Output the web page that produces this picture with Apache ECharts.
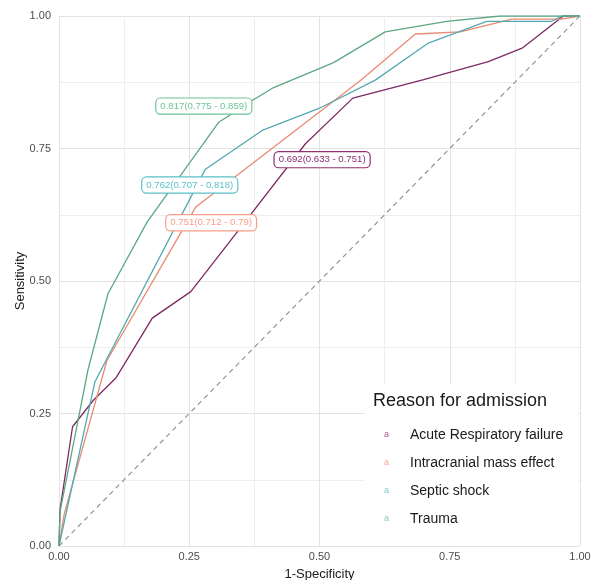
<!DOCTYPE html>
<html><head><meta charset="utf-8">
<script src="https://cdn.jsdelivr.net/npm/echarts@6/dist/echarts.min.js"></script>
<style>html,body{margin:0;padding:0;background:#fff;overflow:hidden}#c{width:592px;height:580px}</style>
</head><body><div id="c"></div>
<script>
const seriesNames = ['Acute Respiratory failure','Intracranial mass effect','Septic shock','Trauma'];
const lineColors = ['#7E2A64','#E98A72','#55A9B0','#5BA883'];
const labelColors = ['#8E2F72','#F79E88','#5BC0C8','#6CC39A'];
const keyColors = ['#A65C8E','#F7AB9A','#80C8CE','#8ACBA8'];
const acuteFpr = [0,0.002,0.026,0.066,0.11,0.179,0.253,0.34,0.473,0.564,0.70,0.824,0.89,0.968,1];
const acuteTpr = [0,0.069,0.225,0.275,0.318,0.43,0.48,0.59,0.759,0.845,0.88,0.914,0.94,1,1];
const cranialFpr = [0,0.01,0.092,0.262,0.578,0.684,0.770,0.869,0.965,1];
const cranialTpr = [0,0.06,0.35,0.639,0.878,0.966,0.970,0.994,0.994,1];
const septicFpr = [0,0.069,0.281,0.39,0.50,0.607,0.709,0.821,0.946,0.965,1];
const septicTpr = [0,0.31,0.711,0.784,0.826,0.879,0.949,0.990,0.990,1,1];
const traumaFpr = [0,0.002,0.056,0.094,0.169,0.306,0.37,0.412,0.527,0.626,0.744,0.847,1];
const traumaTpr = [0,0.065,0.334,0.476,0.611,0.799,0.84,0.865,0.912,0.97,0.99,1,1];
const aucLabels = ['0.692(0.633 - 0.751)','0.751(0.712 - 0.79)','0.762(0.707 - 0.818)','0.817(0.775 - 0.859)'];
const labelX = [0.505,0.292,0.251,0.278];
const labelY = [0.729,0.610,0.681,0.830];
const tickVals = [0,0.25,0.5,0.75,1];
const xAxisTitle = '1-Specificity';
const yAxisTitle = 'Sensitivity';
const legendTitle = 'Reason for admission';

const fprs = [acuteFpr,cranialFpr,septicFpr,traumaFpr];
const tprs = [acuteTpr,cranialTpr,septicTpr,traumaTpr];
const fmt = v => v.toFixed(2);
const FF = 'Liberation Sans, Arial, sans-serif';

const series = [{
  type:'line', name:'ref', data:[[0,0],[1,1]], symbol:'none', silent:true,
  lineStyle:{color:'#8c8c8c', width:1.1, type:[5,4]}, z:1
}];
seriesNames.forEach((n,i)=>{
  series.push({
    type:'line', name:n, data:fprs[i].map((x,j)=>[x,tprs[i][j]]),
    symbol:'none', smooth:false, lineStyle:{color:lineColors[i], width:1.3},
    itemStyle:{color:lineColors[i]},
    markPoint:{
      symbol:'rect', symbolSize:1, itemStyle:{color:'rgba(0,0,0,0)'},
      data:[{coord:[labelX[i],labelY[i]], value:aucLabels[i]}],
      label:{show:true, position:'inside', formatter:aucLabels[i], color:labelColors[i],
        fontSize:9.6, fontFamily:FF,
        backgroundColor:'#fff', borderColor:labelColors[i], borderWidth:1.2, borderRadius:4,
        padding:[3,4,2,4]}
    }
  });
});

const rich = {t:{fontSize:14, color:'#1a1a1a', fontFamily:FF}};
keyColors.forEach((c,i)=>{ rich['k'+i] = {color:c, fontSize:9, width:26, fontFamily:FF}; });

const chart = echarts.init(document.getElementById('c'));
chart.setOption({
  animation:false,
  backgroundColor:'#fff',
  grid:{left:59, right:12, top:16, bottom:34, containLabel:false, outerBoundsMode:'none'},
  xAxis:{type:'value', min:0, max:1, interval:0.25,
    name:xAxisTitle, nameLocation:'middle', nameGap:22,
    nameTextStyle:{fontSize:13, color:'#1a1a1a', fontFamily:FF},
    axisLine:{show:false}, axisTick:{show:false},
    axisLabel:{formatter:fmt, fontSize:11, color:'#4d4d4d', margin:5, fontFamily:FF},
    splitLine:{lineStyle:{color:'#e3e3e3', width:1}},
    minorTick:{show:false, splitNumber:2},
    minorSplitLine:{show:true, lineStyle:{color:'#eeeeee', width:1}}
  },
  yAxis:{type:'value', min:0, max:1, interval:0.25,
    axisLine:{show:false}, axisTick:{show:false},
    axisLabel:{formatter:fmt, fontSize:11, color:'#4d4d4d', margin:8, fontFamily:FF},
    splitLine:{lineStyle:{color:'#e3e3e3', width:1}},
    minorTick:{show:false, splitNumber:2},
    minorSplitLine:{show:true, lineStyle:{color:'#eeeeee', width:1}}
  },
  graphic:[
    {type:'rect', left:365, top:385, shape:{width:213, height:160}, style:{fill:'#fff'}, z:3, silent:true},
    {type:'text', x:20, y:281, rotation:Math.PI/2, silent:true,
      style:{text:yAxisTitle, fontSize:13, fill:'#1a1a1a', fontFamily:FF, align:'center', verticalAlign:'middle'}}
  ],
  title:{text:legendTitle, left:373, top:392, padding:0,
    textStyle:{fontSize:18, fontWeight:'normal', color:'#1a1a1a', fontFamily:FF}},
  legend:{data:seriesNames, orient:'vertical', left:374, top:423, icon:'none', itemWidth:0, itemHeight:10, itemGap:14,
    selectedMode:false, z:5,
    formatter: name => '{k'+seriesNames.indexOf(name)+'|a}{t|'+name+'}',
    textStyle:{rich:rich, fontSize:14}
  },
  series:series
});
</script></body></html>
